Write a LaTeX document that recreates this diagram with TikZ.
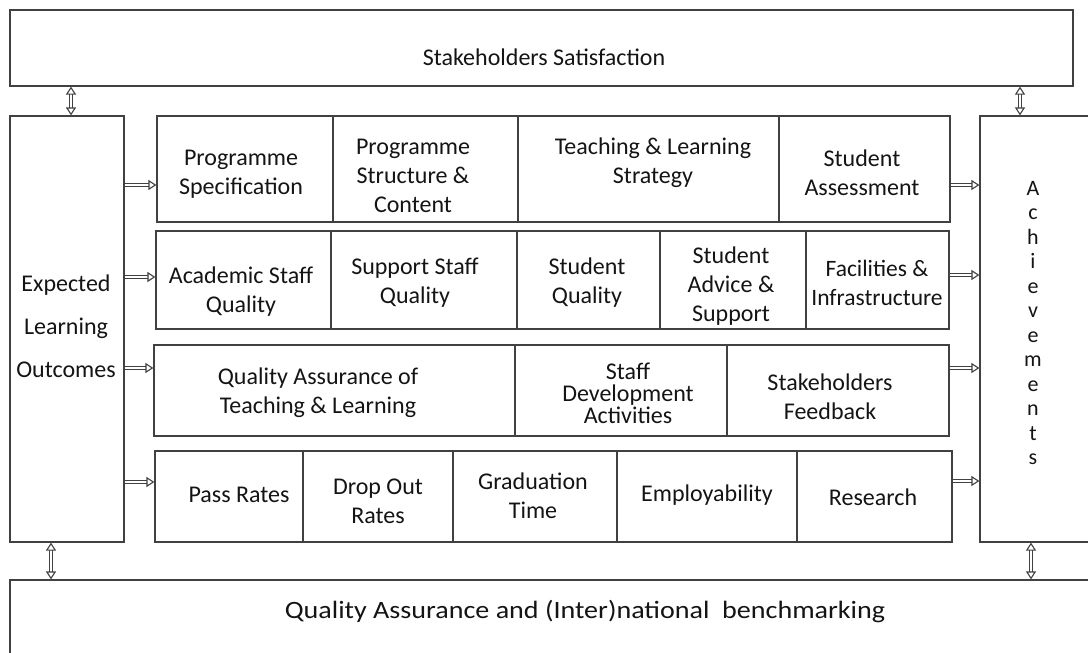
\documentclass[tikz,border=0pt]{standalone}
\usepackage{fontspec}
\setmainfont{Carlito}
\usetikzlibrary{arrows.meta,fit}
\definecolor{linegray}{RGB}{65,65,65}
\definecolor{textgray}{RGB}{20,20,20}
\begin{document}
\begin{tikzpicture}[x=1pt,y=-1pt,
  box/.style={draw=linegray, line width=1.2pt, inner sep=0pt},
  txt/.style={align=center, font=\fontsize{24}{29}\selectfont, text=textgray, inner sep=0pt},
  harr/.style={draw=linegray, double=white, double distance=1.8pt, line width=1.1pt,
    -{Triangle[open,length=8pt,width=10pt,line width=1.1pt]}},
  varr/.style={draw=linegray, double=white, double distance=1.8pt, line width=1.1pt,
    {Triangle[open,length=8pt,width=10pt,line width=1.1pt]}-{Triangle[open,length=8pt,width=10pt,line width=1.1pt]}}]
\useasboundingbox (0,0) rectangle (1088,653);
\clip (0,0) rectangle (1088,653);
% big boxes
\node[box, fit={(10,10) (1073,86)}] (top) {};
\node[box, fit={(10,116) (124,542)}] (elo) {};
\node[box, fit={(980,116) (1110,542)}] (ach) {};
\node[box, fit={(10,580) (1110,700)}] (bot) {};
\node[txt] (toptxt) at (544,57) {Stakeholders Satisfaction};
\node[txt] (bottxt) at (585,612) {\scalebox{1.17}[1.04]{Quality Assurance and (Inter)national\ \ benchmarking}};
\node[txt, font=\fontsize{24}{43}\selectfont] (elotxt) at (66,326) {Expected\\Learning\\Outcomes};
\node[txt, font=\fontsize{22}{24.5}\selectfont] (achtxt) at (1033,323) {A\\c\\h\\i\\e\\v\\e\\m\\e\\n\\t\\s};
% row 1
\node[box, fit={(157,116) (333,222)}] (r1a) {};
\node[box, fit={(333,116) (518,222)}] (r1b) {};
\node[box, fit={(518,116) (779,222)}] (r1c) {};
\node[box, fit={(779,116) (950,222)}] (r1d) {};
\node[txt] (t1a) at (241,174) {Programme\\Specification};
\node[txt] (t1b) at (413,176) {Programme\\Structure \&\\Content};
\node[txt] (t1c) at (653,163) {Teaching \& Learning\\Strategy};
\node[txt] (t1d) at (862,173) {Student\\Assessment};
% row 2
\node[box, fit={(156,231) (331,329)}] (r2a) {};
\node[box, fit={(331,231) (517,329)}] (r2b) {};
\node[box, fit={(517,231) (660,329)}] (r2c) {};
\node[box, fit={(660,231) (806,329)}] (r2d) {};
\node[box, fit={(806,231) (949,329)}] (r2e) {};
\node[txt] (t2a) at (241,292) {Academic Staff\\Quality};
\node[txt] (t2b) at (415,283) {Support Staff\\Quality};
\node[txt] (t2c) at (587,283) {Student\\Quality};
\node[txt] (t2d) at (731,286) {Student\\Advice \&\\Support};
\node[txt, font=\fontsize{23.5}{29}\selectfont] (t2e) at (877,283) {Facilities \&\\Infrastructure};
% row 3
\node[box, fit={(154,345) (515,436)}] (r3a) {};
\node[box, fit={(515,345) (727,436)}] (r3b) {};
\node[box, fit={(727,345) (949,436)}] (r3c) {};
\node[txt] (t3a) at (318,393) {Quality Assurance of\\Teaching \& Learning};
\node[txt, font=\fontsize{24}{22}\selectfont] (t3b) at (628,393) {Staff\\Development\\Activities};
\node[txt] (t3c) at (830,397) {Stakeholders\\Feedback};
% row 4
\node[box, fit={(155,451) (303,542)}] (r4a) {};
\node[box, fit={(303,451) (453,542)}] (r4b) {};
\node[box, fit={(453,451) (617,542)}] (r4c) {};
\node[box, fit={(617,451) (797,542)}] (r4d) {};
\node[box, fit={(797,451) (952,542)}] (r4e) {};
\node[txt] (t4a) at (239,495) {Pass Rates};
\node[txt] (t4b) at (378,501) {Drop Out\\Rates};
\node[txt] (t4c) at (533,496) {Graduation\\Time};
\node[txt] (t4d) at (707,495) {Employability};
\node[txt] (t4e) at (873,497) {Research};
% arrow levels
\coordinate (l1) at (0,185);
\coordinate (l2) at (0,277);
\coordinate (l3) at (0,368);
\coordinate (l4) at (0,482);
\coordinate (q1) at (0,185);
\coordinate (q2) at (0,275);
\coordinate (q3) at (0,368);
\coordinate (q4) at (0,481);
\coordinate (va) at (71,0);
\coordinate (vb) at (1020,0);
\coordinate (vc) at (51,0);
\coordinate (vd) at (1031,0);
% left arrows
\draw[harr] (elo.east |- l1) -- (r1a.west |- l1);
\draw[harr] (elo.east |- l2) -- (r2a.west |- l2);
\draw[harr] (elo.east |- l3) -- (r3a.west |- l3);
\draw[harr] (elo.east |- l4) -- (r4a.west |- l4);
% right arrows
\draw[harr] (r1d.east |- q1) -- (ach.west |- q1);
\draw[harr] (r2e.east |- q2) -- (ach.west |- q2);
\draw[harr] (r3c.east |- q3) -- (ach.west |- q3);
\draw[harr] (r4e.east |- q4) -- (ach.west |- q4);
% vertical double arrows
\draw[varr] (va |- top.south) -- (va |- elo.north);
\draw[varr] (vb |- top.south) -- (vb |- ach.north);
\draw[varr] (vc |- elo.south) -- (vc |- bot.north);
\draw[varr] (vd |- ach.south) -- (vd |- bot.north);
\end{tikzpicture}
\end{document}
